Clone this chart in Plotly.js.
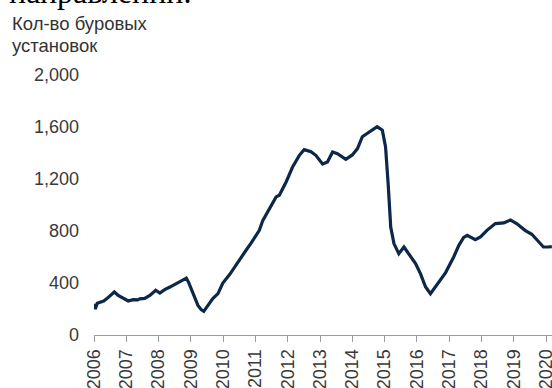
<!DOCTYPE html>
<html>
<head>
<meta charset="utf-8">
<script src="https://cdn.plot.ly/plotly-3.0.1.min.js"></script>
<style>html,body{margin:0;padding:0;background:#fff;}#chart{width:552px;height:388px;}</style>
</head>
<body>
<div id="chart"></div>
<script>
// Decimal year of each reading
const years = [2006.00,2006.04,2006.10,2006.19,2006.30,2006.40,2006.50,2006.63,2006.75,2006.90,
  2007.00,2007.06,2007.21,2007.35,2007.42,2007.57,2007.73,2007.91,2008.04,2008.19,2008.35,2008.50,
  2008.65,2008.80,2008.86,2008.93,2009.06,2009.22,2009.32,2009.40,2009.53,2009.68,2009.84,2009.99,
  2010.20,2010.40,2010.55,2010.71,2010.87,2011.00,2011.12,2011.23,2011.43,2011.64,2011.74,2011.95,
  2012.15,2012.36,2012.51,2012.62,2012.72,2012.87,2013.08,2013.23,2013.39,2013.54,2013.70,2013.80,
  2014.00,2014.16,2014.31,2014.52,2014.65,2014.77,2014.93,2015.03,2015.11,2015.19,2015.29,2015.44,
  2015.60,2015.75,2015.96,2016.11,2016.27,2016.42,2016.63,2016.89,2017.14,2017.30,2017.45,2017.56,
  2017.81,2017.97,2018.17,2018.43,2018.69,2018.90,2019.10,2019.35,2019.56,2019.77,2019.92,2020.07,2020.18];
// Rig count
const rigs = [240,200,245,254,262,280,305,331,305,285,
  275,262,272,270,278,282,305,344,323,349,369,388,
  412,428,438,405,331,228,195,182,228,280,318,400,
  465,540,600,652,708,760,805,882,972,1062,1075,1177,
  1292,1382,1426,1420,1410,1382,1315,1331,1408,1395,1370,1352,
  1385,1434,1525,1562,1580,1602,1575,1446,1165,831,703,626,
  677,626,549,472,369,318,395,480,600,690,750,767,
  734,754,805,857,862,885,855,805,775,715,677,677,680];
const tickYears = [2006,2007,2008,2009,2010,2011,2012,2013,2014,2015,2016,2017,2018,2019,2020];
const tickYearLabels = ["2006","2007","2008","2009","2010","2011","2012","2013","2014","2015","2016","2017","2018","2019","2020"];
const yTicks = [0,400,800,1200,1600,2000];
const yTickLabels = ["0","400","800","1,200","1,600","2,000"];
const titleLine1 = "Кол-во буровых";
const titleLine2 = "установок";
const cutText = "направлении.";

const font = "Liberation Sans, Arial, Helvetica, sans-serif";
// pixel -> paper helpers (plot area: left 94, width 458; bottom 334.7, height 273)
const px = p => (p - 94) / 458;
const py = p => (334.7 - p) / 273;

Plotly.newPlot('chart', [{
  x: years, y: rigs, type: 'scatter', mode: 'lines',
  line: {color: '#0c2748', width: 3.2},
  hoverinfo: 'skip'
}], {
  width: 552, height: 388,
  margin: {l: 94, r: 0, t: 61.7, b: 53.3, pad: 0},
  paper_bgcolor: '#ffffff', plot_bgcolor: '#ffffff',
  showlegend: false,
  font: {family: font, color: '#3a3a3a', size: 18},
  xaxis: {
    range: [2006, 2020.185], tickmode: 'array', tickvals: tickYears, ticktext: tickYearLabels,
    tickangle: -90, showgrid: false, zeroline: false, ticklabeloverflow: 'allow',
    showline: true, linecolor: '#9a9a9a', linewidth: 1,
    ticks: 'outside', ticklen: 6, tickcolor: '#9a9a9a', tickwidth: 1,
    tickfont: {family: font, size: 18, color: '#3a3a3a'}, fixedrange: true
  },
  yaxis: {
    range: [0, 2100], tickmode: 'array', tickvals: yTicks, ticktext: yTickLabels,
    showgrid: false, zeroline: false, showline: false, ticks: '',
    ticklabelstandoff: 14,
    tickfont: {family: font, size: 18, color: '#3a3a3a'}, fixedrange: true
  },
  annotations: [
    {text: cutText, xref: 'paper', yref: 'paper', x: px(193), xanchor: 'right',
     y: py(12), yanchor: 'bottom', showarrow: false,
     font: {family: 'Liberation Serif, DejaVu Serif, serif', size: 32, color: '#000000'}},
    {text: titleLine1, xref: 'paper', yref: 'paper', x: px(10), xanchor: 'left',
     y: py(23.5), yanchor: 'middle', showarrow: false,
     font: {family: font, size: 18.5, color: '#333333'}},
    {text: titleLine2, xref: 'paper', yref: 'paper', x: px(10), xanchor: 'left',
     y: py(45), yanchor: 'middle', showarrow: false,
     font: {family: font, size: 18.5, color: '#333333'}}
  ]
}, {displayModeBar: false, staticPlot: true});
</script>
</body>
</html>
